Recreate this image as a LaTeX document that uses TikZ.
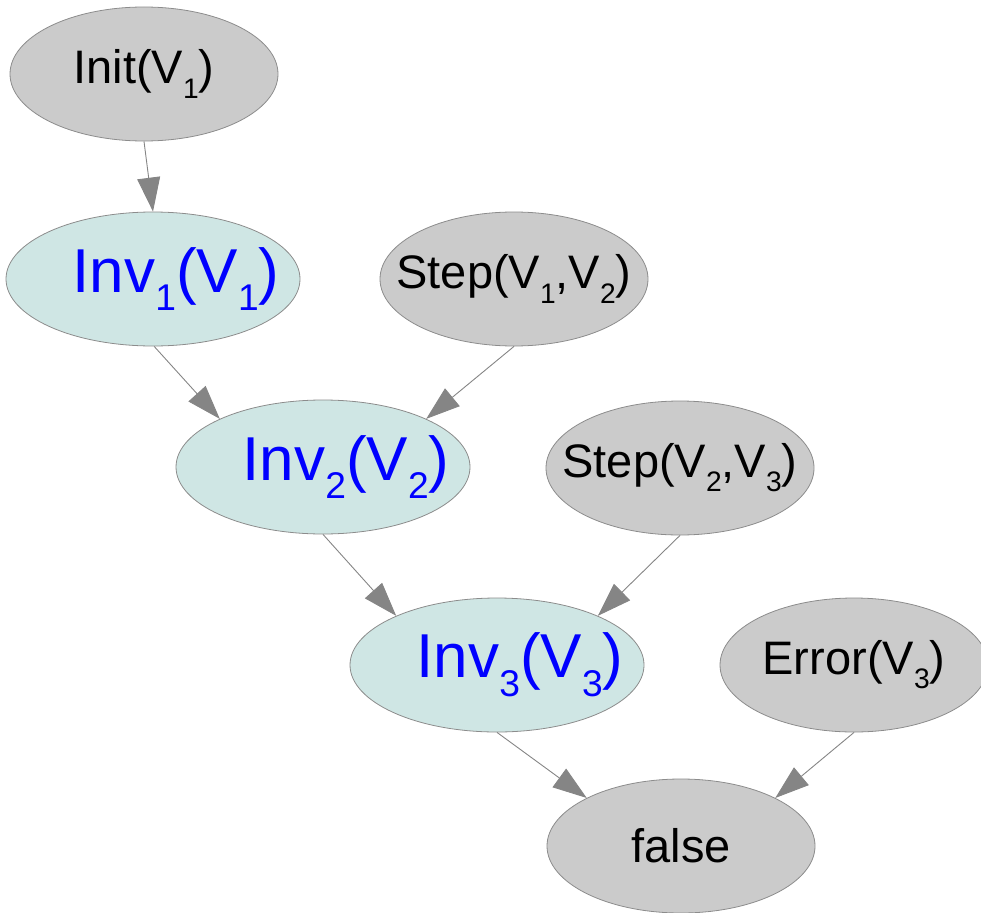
\documentclass[tikz,border=0pt]{standalone}
\usepackage{fontspec}
\usepackage{graphicx}
\setmainfont{Liberation Sans}
\usetikzlibrary{shapes.geometric,arrows.meta}

\definecolor{nodegray}{HTML}{CBCBCB}
\definecolor{invfill}{HTML}{CFE6E4}
\definecolor{edgegray}{HTML}{858585}
\definecolor{rimgray}{HTML}{8C8C8C}
\definecolor{invblue}{HTML}{0000FF}

% lowered, smaller index digit
\newcommand{\idx}[1]{\raisebox{-0.3em}{\scalebox{0.6}{#1}}}
% zero-width label so the ellipse keeps its fixed size
\newcommand{\lbl}[1]{\makebox[0pt][c]{#1}}

\tikzset{
  fact/.style={ellipse, draw=rimgray, line width=0.8pt, fill=nodegray,
    minimum width=268pt, minimum height=134pt, inner sep=0pt,
    font=\fontsize{47}{56}\selectfont, text=black},
  invnode/.style={ellipse, draw=rimgray, line width=0.8pt, fill=invfill,
    minimum width=294pt, minimum height=134pt, inner sep=0pt,
    font=\fontsize{62}{72}\selectfont, text=invblue},
  edge/.style={draw=edgegray, line width=0.9pt,
    -{Triangle[length=34pt,width=23pt,fill=edgegray,color=edgegray]}}
}

\begin{document}
\begin{tikzpicture}[x=1pt,y=-1pt]
\useasboundingbox (0,0) rectangle (981,912);

\node[fact]    (init)  at (144,74)  {\lbl{Init(V\idx{1})}};
\node[invnode] (inv1)  at (153,279) {\lbl{\hspace*{46pt}Inv\idx{1}(V\idx{1})}};
\node[fact]    (step1) at (514,279) {\lbl{Step(V\idx{1},V\idx{2})}};
\node[invnode] (inv2)  at (323,467) {\lbl{\hspace*{46pt}Inv\idx{2}(V\idx{2})}};
\node[fact]    (step2) at (680,468) {\lbl{Step(V\idx{2},V\idx{3})}};
\node[invnode] (inv3)  at (497,665) {\lbl{\hspace*{46pt}Inv\idx{3}(V\idx{3})}};
\node[fact]    (err)   at (854,665) {\lbl{Error(V\idx{3})}};
\node[fact]    (fls)   at (681,846) {\lbl{false}};

\draw[edge] (init.south) -- (inv1.north);
\draw[edge] (inv1.-89) -- (inv2.155);
\draw[edge] (step1.south) -- (inv2.25);
\draw[edge] (inv2.south) -- (inv3.154);
\draw[edge] (step2.south) -- (inv3.26);
\draw[edge] (inv3.south) -- (fls.153);
\draw[edge] (err.south) -- (fls.27);
\end{tikzpicture}
\end{document}
